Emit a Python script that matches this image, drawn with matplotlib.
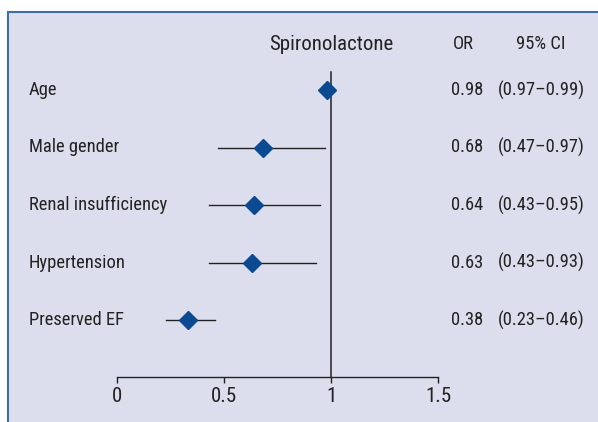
import matplotlib.pyplot as plt
from matplotlib.patches import Rectangle

# ---- data ----
labels = ['Age', 'Male gender', 'Renal insufficiency', 'Hypertension', 'Preserved EF']
or_text = ['0.98', '0.68', '0.64', '0.63', '0.38']
ci_text = ['(0.97\u20130.99)', '(0.47\u20130.97)', '(0.43\u20130.95)',
           '(0.43\u20130.93)', '(0.23\u20130.46)']
point_est = [0.98, 0.68, 0.64, 0.63, 0.33]   # diamond position as drawn
ci_low = [0.97, 0.47, 0.43, 0.43, 0.23]
ci_high = [0.99, 0.97, 0.95, 0.93, 0.46]
xticks = [0, 0.5, 1, 1.5]

plt.rcParams['font.family'] = ['Roboto Condensed', 'DejaVu Sans']

W, H = 598, 422
fig = plt.figure(figsize=(W / 100, H / 100), dpi=100)
fig.patch.set_facecolor('white')
fig.patches.append(Rectangle((8 / W, -0.05), 1.0, 1 - 12 / H + 0.05,
                             transform=fig.transFigure, facecolor='#dcdeed',
                             edgecolor='#3e6ea8', linewidth=1.5, zorder=-10))

ax = fig.add_axes([0, 0, 1, 1])
ax.patch.set_alpha(0)
px_per_unit = 214.0
x0 = 117.0
ax.set_xlim(-x0 / px_per_unit, (W - x0) / px_per_unit)
row_px, row0 = 57.5, 90.0
ax.set_ylim((H - row0) / row_px, -row0 / row_px)

rows = list(range(len(labels)))
ink = '#222222'
for i in rows:
    ax.plot([ci_low[i], ci_high[i]], [i, i], color=ink, lw=1.0, zorder=2)
ax.plot(point_est, rows, linestyle='none', marker='D', ms=9.5,
        color='#0b4a91', zorder=3)

axis_y = len(labels)
ax.plot([1, 1], [-0.31, axis_y], color=ink, lw=1.1, zorder=1)

for s in ['top', 'left', 'right']:
    ax.spines[s].set_visible(False)
ax.spines['bottom'].set_position(('data', axis_y))
ax.spines['bottom'].set_bounds(0, 1.5)
ax.spines['bottom'].set_color(ink)
ax.spines['bottom'].set_linewidth(1.0)
ax.set_xticks(xticks)
ax.set_xticklabels(['0', '0.5', '1', '1.5'])
ax.tick_params(axis='x', direction='out', length=4, width=1.0, color=ink,
               labelsize=15, labelcolor=ink, pad=3)
ax.set_yticks([])

fs = 13.3
lab_x = (29 - x0) / px_per_unit
or_x = (483 - x0) / px_per_unit
ci_x = (541 - x0) / px_per_unit
for i in rows:
    ax.text(lab_x, i, labels[i], ha='left', va='center', fontsize=fs, color=ink)
    ax.text(or_x, i, or_text[i], ha='right', va='center', fontsize=fs, color=ink)
    ax.text(ci_x, i, ci_text[i], ha='center', va='center', fontsize=fs, color=ink)

hdr = -0.8
ax.text(1.0, hdr, 'Spironolactone', ha='center', va='center', fontsize=15, color=ink)
ax.text((463 - x0) / px_per_unit, hdr, 'OR', ha='center', va='center', fontsize=fs, color=ink)
ax.text(ci_x, hdr, '95% CI', ha='center', va='center', fontsize=fs, color=ink)

fig.savefig('out.png', dpi=100)
